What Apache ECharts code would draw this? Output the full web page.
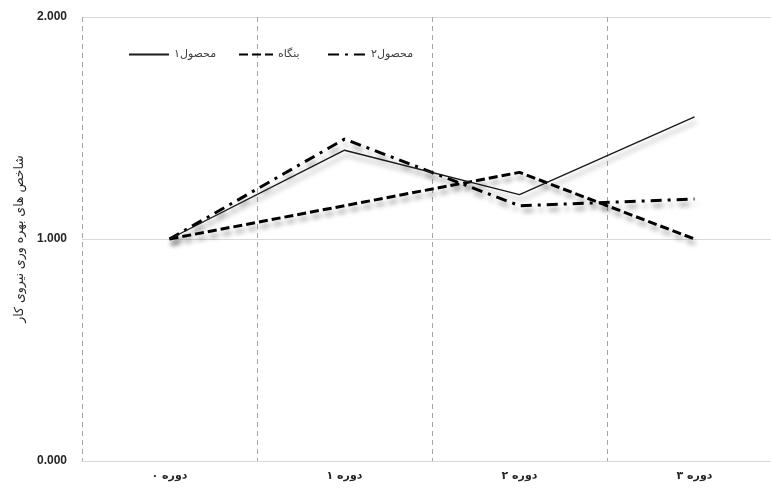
<!DOCTYPE html>
<html>
<head>
<meta charset="utf-8">
<script src="https://cdn.jsdelivr.net/npm/echarts@6/dist/echarts.min.js"></script>
<style>
  html, body { margin: 0; padding: 0; background: #fff; overflow: hidden; }
  /* the plot runs slightly past the right edge of the window */
  #chart { width: 800px; height: 491px; }
</style>
</head>
<body>
<div id="chart"></div>
<script>
// Periods on the x axis
const periods = ['دوره ۰', 'دوره ۱', 'دوره ۲', 'دوره ۳'];

// Labour productivity indices per period
const product1 = [1.0, 1.4, 1.2, 1.55];
const firm = [1.0, 1.15, 1.3, 1.0];
const product2 = [1.0, 1.45, 1.15, 1.18];

const seriesNames = ['محصول۱', 'بنگاه', 'محصول۲'];
const yAxisTitle = 'شاخص های بهره وری نیروی کار';

const persianFont = '"DejaVu Sans", "Noto Sans", sans-serif';
const shadow = {
  shadowColor: 'rgba(0,0,0,0.4)',
  shadowBlur: 5,
  shadowOffsetX: 2,
  shadowOffsetY: 5
};

const chart = echarts.init(document.getElementById('chart'), null, { renderer: 'canvas' });

function legendAt(name, left, width) {
  return {
    data: [name],
    left: left,
    top: 44,
    itemWidth: width,
    itemHeight: 14,
    itemStyle: { opacity: 0 },
    textStyle: { fontFamily: persianFont, fontSize: 11, color: '#404040' },
    selectedMode: false
  };
}

chart.setOption({
  animation: false,
  backgroundColor: '#fff',
  legend: [
    legendAt(seriesNames[0], 123, 40),
    legendAt(seriesNames[1], 233, 34),
    legendAt(seriesNames[2], 322, 38)
  ],
  grid: { left: 82, top: 17, width: 700, height: 444, containLabel: false },
  xAxis: {
    type: 'category',
    data: periods,
    boundaryGap: true,
    axisLine: { show: true, lineStyle: { color: '#d9d9d9', width: 1 } },
    axisTick: { show: false },
    axisLabel: {
      margin: 10,
      fontFamily: persianFont,
      fontSize: 11,
      fontWeight: 'bold',
      color: '#262626'
    },
    splitLine: {
      show: true,
      lineStyle: { color: '#a6a6a6', type: [5, 4], width: 1 }
    }
  },
  yAxis: {
    type: 'value',
    min: 0,
    max: 2,
    interval: 1,
    name: yAxisTitle,
    nameLocation: 'middle',
    nameGap: 56,
    nameTextStyle: { fontFamily: persianFont, fontSize: 12.5, color: '#262626' },
    axisLine: { show: false },
    axisTick: { show: false },
    axisLabel: {
      margin: 15,
      fontFamily: '"Liberation Sans", Arial, sans-serif',
      fontSize: 12,
      fontWeight: 'bold',
      color: '#262626',
      formatter: v => v.toFixed(3)
    },
    splitLine: { show: true, lineStyle: { color: '#d9d9d9', width: 1 } }
  },
  series: [
    {
      name: seriesNames[0],
      type: 'line',
      data: product1,
      symbol: 'none',
      lineStyle: Object.assign({ color: '#1a1a1a', width: 1.4, type: 'solid' }, shadow),
      itemStyle: { color: '#1a1a1a' },
      z: 3
    },
    {
      name: seriesNames[1],
      type: 'line',
      data: firm,
      symbol: 'none',
      lineStyle: Object.assign({ color: '#000', width: 3, type: [9, 4], cap: 'butt' }, shadow),
      itemStyle: { color: '#000' },
      z: 2
    },
    {
      name: seriesNames[2],
      type: 'line',
      data: product2,
      symbol: 'none',
      lineStyle: Object.assign({ color: '#000', width: 3, type: [11, 6, 3, 6], cap: 'butt' }, shadow),
      itemStyle: { color: '#000' },
      z: 2
    }
  ]
});
</script>
</body>
</html>
